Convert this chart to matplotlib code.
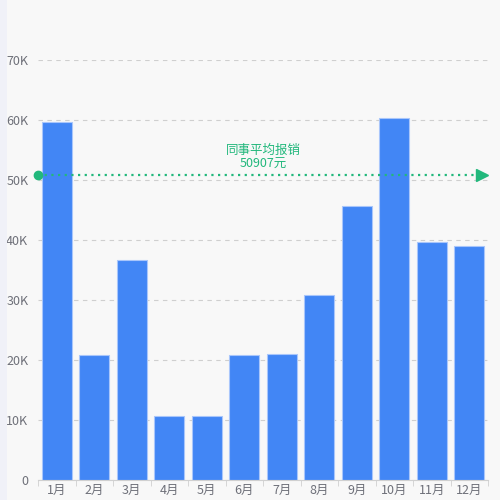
import matplotlib.pyplot as plt
import matplotlib.patches as mpatches

plt.rcParams['font.family'] = ['Noto Sans CJK SC', 'DejaVu Sans']

months = ['1月', '2月', '3月', '4月', '5月', '6月', '7月', '8月', '9月', '10月', '11月', '12月']
spend = [59700, 20800, 36700, 10700, 10700, 20800, 21000, 30800, 45700, 60300, 39700, 39000]
avg_value = 50907
avg_label = '同事平均报销\n50907元'
y_ticks = [0, 10000, 20000, 30000, 40000, 50000, 60000, 70000]
y_tick_labels = ['0', '10K', '20K', '30K', '40K', '50K', '60K', '70K']

bg = '#f8f8f8'
green = '#22b87c'

fig = plt.figure(figsize=(5, 5), dpi=100, facecolor=bg)
# light stripe at the far left
fig.patches.append(mpatches.Rectangle((0, 0), 0.014, 1, transform=fig.transFigure,
                                      facecolor='#f0f1f8', edgecolor='none'))
ax = fig.add_axes([0.076, 0.04, 0.9, 0.84], facecolor=bg)

x = list(range(len(months)))
ax.bar(x, spend, width=0.8, color='#4286f5', edgecolor='#a9c6fb', linewidth=0.8, zorder=2)

ax.set_xlim(-0.5, len(months) - 0.5)
ax.set_ylim(0, 70000)
ax.set_yticks(y_ticks)
ax.set_yticklabels(y_tick_labels)
ax.set_xticks(x)
ax.set_xticklabels(months)
ax.set_xticks([i - 0.5 for i in range(len(months) + 1)], minor=True)

ax.grid(axis='y', color='#cfcfcf', linestyle=(0, (4, 4)), linewidth=0.8, zorder=0)
for s in ['top', 'right', 'left']:
    ax.spines[s].set_visible(False)
ax.spines['bottom'].set_color('#d0d0d0')

ax.tick_params(axis='y', length=0, colors='#6e7079', labelsize=9, pad=7)
ax.tick_params(axis='x', which='major', length=0, colors='#6e7079', labelsize=9, pad=3)
ax.tick_params(axis='x', which='minor', length=4, color='#d0d0d0')

# average line
ax.plot([-0.5, len(months) - 0.5], [avg_value, avg_value], color=green,
        linestyle=(0, (1, 2)), linewidth=1.6, zorder=3, clip_on=False)
ax.plot([-0.5], [avg_value], marker='o', markersize=6, color=green, zorder=4, clip_on=False)
ax.plot([len(months) - 0.65], [avg_value], marker='>', markersize=8, color=green,
        zorder=4, clip_on=False)
ax.text((len(months) - 1) / 2, avg_value + 700, avg_label, color=green, fontsize=9,
        ha='center', va='bottom', linespacing=1.0, zorder=4)

fig.savefig('out.png', dpi=100, facecolor=bg)
